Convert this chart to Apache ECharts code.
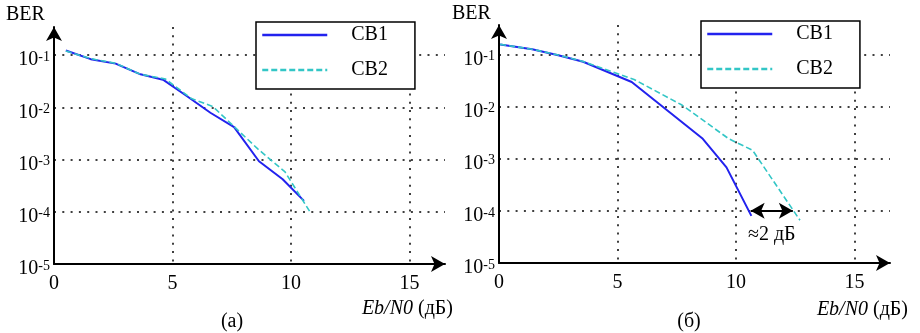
<!DOCTYPE html>
<html><head><meta charset="utf-8">
<script src="https://cdn.jsdelivr.net/npm/echarts@6/dist/echarts.min.js"></script>
<style>html,body{margin:0;padding:0;background:#fff}#c{width:920px;height:333px}</style>
</head><body><div id="c"></div>
<script>
const seriesNames = ['CB1', 'CB2'];
const panelCaptions = ['(a)', '(б)'];
const xTickValues = [0, 5, 10, 15];
const yAxisTitle = 'BER';
const leftCB1 = [[0.5,0.123],[1.55,0.084],[2.6,0.069],[3.65,0.043],[4.6,0.034],[5.6,0.0165],[6.6,0.0079],[7.6,0.0042],[8.65,0.00093],[9.65,0.00042],[10.55,0.000162]];
const leftCB2 = [[0.5,0.12],[1.55,0.086],[2.6,0.07],[3.65,0.043],[4.7,0.035],[5.8,0.0148],[6.7,0.0104],[7.6,0.0043],[8.6,0.0016],[9.75,0.00058],[10.8,0.0001]];
const rightCB1 = [[0.05,0.155],[1.4,0.125],[2.5,0.096],[3.55,0.072],[5.6,0.0295],[8.6,0.0024],[9.6,0.00068],[10.65,0.00008]];
const rightCB2 = [[0.05,0.155],[1.4,0.125],[2.5,0.097],[3.55,0.073],[5.7,0.033],[7.7,0.0108],[9.7,0.0024],[10.7,0.00145],[12.7,0.000066]];
const gapArrow = [[10.62,1e-4],[12.4,1e-4]];
const gapLabel = '≈2 дБ';

const F = '"Liberation Serif", "Times New Roman", serif';
const chart = echarts.init(document.getElementById('c'), null, {renderer:'canvas'});

function xAx(gi){
  return {type:'value', gridIndex:gi, min:0, max:16.5, interval:5,
    axisLine:{show:true, onZero:false, lineStyle:{color:'#000', width:2}, symbol:['none','arrow'], symbolSize:[12,14]},
    axisTick:{show:false},
    axisLabel:{color:'#000', fontFamily:F, fontSize:20, margin:10, showMaxLabel:false,
      formatter: v => xTickValues.includes(v) ? String(v) : ''},
    splitLine:{show:true, showMinLine:false, showMaxLine:false, lineStyle:{color:'#000', type:[2,6.3], width:1.5}}};
}
function yAx(gi, maxV){
  return {type:'log', logBase:10, gridIndex:gi, min:1e-5, max:maxV, splitNumber:5,
    axisLine:{show:true, onZero:false, lineStyle:{color:'#000', width:2}, symbol:['none','arrow'], symbolSize:[12,14]},
    axisTick:{show:false},
    axisLabel:{color:'#000', fontFamily:F, margin:4, showMaxLabel:false, padding:[10,0,0,0],
      formatter: v => '{a|10}{b|' + Math.round(Math.log10(v)) + '}',
      rich:{a:{fontFamily:F, fontSize:20, lineHeight:20, verticalAlign:'middle', color:'#000'},
            b:{fontFamily:F, fontSize:14, lineHeight:8, verticalAlign:'top', color:'#000'}}},
    splitLine:{show:true, showMinLine:false, showMaxLine:false, lineStyle:{color:'#000', type:[2,6.3], width:1.5}}};
}
function legendAt(left, top){
  return {left:left, top:top, orient:'vertical', data:seriesNames, itemWidth:65, itemHeight:14, itemGap:15,
    padding:[3,27,9,5], borderColor:'#000', borderWidth:1.5, backgroundColor:'#fff', selectedMode:false,
    lineStyle:{width:2.5},
    itemStyle:{color:'rgba(0,0,0,0)', borderWidth:0, opacity:0},
    textStyle:{fontFamily:F, fontSize:20, color:'#000', padding:[0,0,0,19]}};
}
const cb1Style = {color:'#2222ee', width:2, type:'solid'};
const cb2Style = {color:'#33c6c6', width:1.6, type:[6,3]};
function line(name, gi, data, st, extra){
  return Object.assign({type:'line', name:name, xAxisIndex:gi, yAxisIndex:gi, data:data, symbol:'none', showSymbol:false,
    color:st.color, lineStyle:st, z:3}, extra || {});
}
const option = {
  animation:false,
  grid:[{left:54, top:27, width:391, height:237}, {left:499, top:25, width:391, height:238}],
  xAxis:[xAx(0), xAx(1)],
  yAxis:[yAx(0, 0.347), yAx(1, 0.365)],
  legend:[legendAt(256, 22), legendAt(701, 21)],
  series:[
    line(seriesNames[0], 0, leftCB1, cb1Style),
    line(seriesNames[1], 0, leftCB2, cb2Style),
    line(seriesNames[0], 1, rightCB1, cb1Style),
    line(seriesNames[1], 1, rightCB2, cb2Style, {
      markLine:{silent:true, symbol:['arrow','arrow'], symbolSize:[12,14],
        lineStyle:{color:'#000', type:'solid', width:2},
        label:{show:true, position:'insideMiddleBottom', distance:14, formatter:gapLabel,
          fontFamily:F, fontSize:20, color:'#000'},
        data:[[{coord:gapArrow[0]}, {coord:gapArrow[1]}]]}})
  ],
  graphic:[
    {type:'text', x:6, y:15, style:{text:yAxisTitle, font:'20px ' + F, fill:'#000', verticalAlign:'middle', textVerticalAlign:'middle'}},
    {type:'text', x:452, y:14, style:{text:yAxisTitle, font:'20px ' + F, fill:'#000', verticalAlign:'middle', textVerticalAlign:'middle'}},
    {type:'text', x:453, y:309, style:{text:'{i|Eb/N0} (дБ)', font:'20px ' + F, fill:'#000', align:'right', textAlign:'right', verticalAlign:'middle', textVerticalAlign:'middle',
      rich:{i:{fontFamily:F, fontSize:20, fontStyle:'italic', fill:'#000'}}}},
    {type:'text', x:908, y:310, style:{text:'{i|Eb/N0} (дБ)', font:'20px ' + F, fill:'#000', align:'right', textAlign:'right', verticalAlign:'middle', textVerticalAlign:'middle',
      rich:{i:{fontFamily:F, fontSize:20, fontStyle:'italic', fill:'#000'}}}},
    {type:'text', x:232, y:322, style:{text:panelCaptions[0], font:'20px ' + F, fill:'#000', align:'center', textAlign:'center', verticalAlign:'middle', textVerticalAlign:'middle'}},
    {type:'text', x:689, y:322, style:{text:panelCaptions[1], font:'20px ' + F, fill:'#000', align:'center', textAlign:'center', verticalAlign:'middle', textVerticalAlign:'middle'}}
  ]
};
chart.setOption(option);
</script></body></html>
